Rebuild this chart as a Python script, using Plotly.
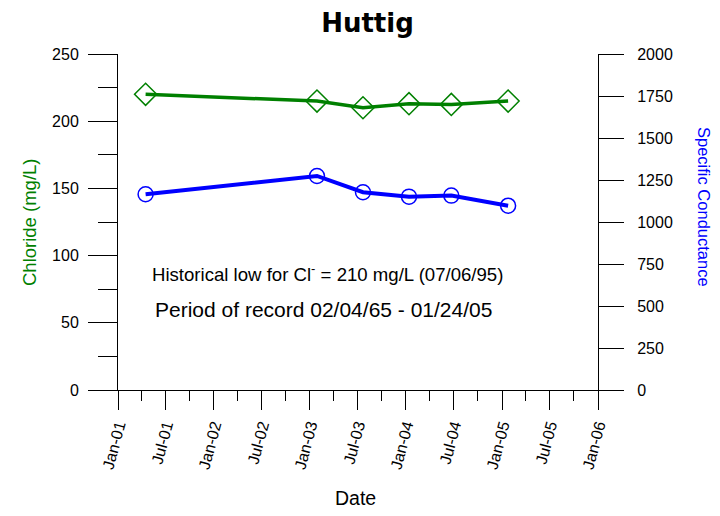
import plotly.graph_objects as go

# Data
dates = ["2001-04-16", "2003-01-28", "2003-07-22", "2004-01-13", "2004-06-22", "2005-01-24"]
chloride = [220, 215, 210, 213, 212.5, 215]
conductance = [1165, 1274, 1177, 1151, 1157, 1097]

GREEN = "#008000"
BLUE = "#0000FF"
FONT = "Liberation Sans, Arial, sans-serif"

# plot area in page pixels: x 118..598, y 54..390 (page body adds an 8px offset)
def px(x):
    return (x - 118) / 480

def py(y):
    return (390 - y) / 336

fig = go.Figure()

fig.add_trace(go.Scatter(
    x=dates, y=chloride, mode="lines+markers", name="Chloride",
    line=dict(color=GREEN, width=3.5),
    marker=dict(symbol="diamond-open", size=17, color=GREEN, line=dict(width=1.5, color=GREEN)),
))
fig.add_trace(go.Scatter(
    x=dates, y=conductance, mode="lines+markers", name="Specific Conductance",
    yaxis="y2",
    line=dict(color=BLUE, width=4),
    marker=dict(symbol="circle-open", size=15, color=BLUE, line=dict(width=1.5, color=BLUE)),
))

fig.update_layout(
    width=720, height=516,
    margin=dict(l=110, r=130, t=46, b=134),
    paper_bgcolor="white", plot_bgcolor="white",
    showlegend=False,
    font=dict(family=FONT, size=16, color="black"),
    title=dict(text="<b>Huttig</b>", x=(367.5 - 8) / 720, xref="container", xanchor="center",
               y=1 - (23 - 8) / 516, yanchor="middle",
               font=dict(family="DejaVu Sans, Verdana, sans-serif", size=26, color="black")),
    xaxis=dict(
        type="date", range=["2001-01-01", "2006-01-01"],
        tick0="2001-01-01", dtick="M6", tickformat="%b-%y", tickangle=-75,
        ticks="outside", ticklen=19, tickwidth=1, tickcolor="black",
        minor=dict(dtick="M3", ticks="outside", ticklen=10, tickcolor="black"),
        showline=True, linecolor="black", linewidth=1,
        showgrid=False, zeroline=False,
    ),
    yaxis=dict(
        range=[0, 250], dtick=50, ticks="outside", ticklen=29, tickcolor="black",
        ticklabelstandoff=6,
        minor=dict(dtick=25, ticks="outside", ticklen=19, tickcolor="black"),
        showline=True, linecolor="black", linewidth=1,
        showgrid=False, zeroline=False,
    ),
    yaxis2=dict(
        range=[0, 2000], dtick=250, overlaying="y", side="right",
        ticks="outside", ticklen=25, tickcolor="black", ticklabelstandoff=10,
        showline=True, linecolor="black", linewidth=1,
        showgrid=False, zeroline=False,
    ),
    annotations=[
        dict(text="Chloride (mg/L)", xref="paper", yref="paper", x=px(29.5), y=py(222.5),
             xanchor="center", yanchor="middle",
             textangle=-90, showarrow=False, font=dict(size=18.5, color=GREEN)),
        dict(text="Specific Conductance", xref="paper", yref="paper", x=px(704), y=py(207),
             xanchor="center", yanchor="middle",
             textangle=90, showarrow=False, font=dict(size=16.5, color=BLUE)),
        dict(text="Date", xref="paper", yref="paper", x=px(355), y=py(498),
             xanchor="center", yanchor="middle",
             showarrow=False, font=dict(size=19.5)),
        dict(text="Historical low for Cl<sup>-</sup> = 210 mg/L (07/06/95)", xref="paper", yref="paper",
             x=px(150), y=py(273), xanchor="left", yanchor="middle", showarrow=False,
             font=dict(size=18.6)),
        dict(text="Period of record 02/04/65 - 01/24/05", xref="paper", yref="paper",
             x=px(153), y=py(309), xanchor="left", yanchor="middle", showarrow=False,
             font=dict(size=21)),
    ],
)

fig.write_html("out.html")
